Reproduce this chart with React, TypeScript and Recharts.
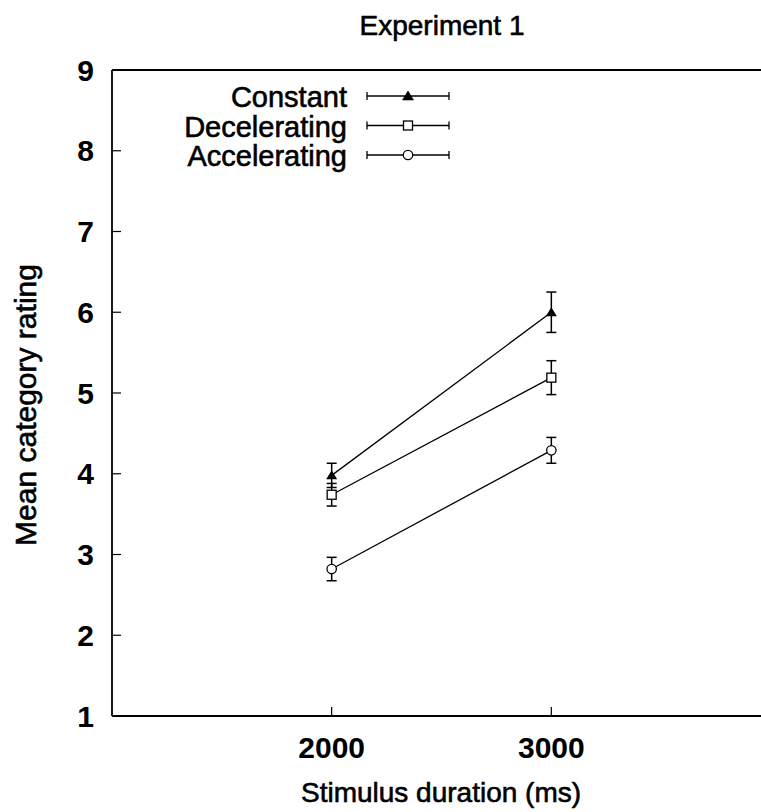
import { LineChart, Line, XAxis, YAxis, ErrorBar, ReferenceLine, Customized } from "recharts";

// stimulus durations (ms)
const durations = [2000, 3000];

// mean category ratings and error (half range) per condition
const constantMeans = [3.98, 6.0];
const constantErr = [0.15, 0.25];
const deceleratingMeans = [3.74, 5.19];
const deceleratingErr = [0.14, 0.21];
const acceleratingMeans = [2.82, 4.29];
const acceleratingErr = [0.145, 0.16];

const yTicks = [1, 2, 3, 4, 5, 6, 7, 8, 9];
const xTicks = [2000, 3000];

const seriesNames = ["Constant", "Decelerating", "Accelerating"];

const data = durations.map((d, i) => ({
  duration: d,
  constant: constantMeans[i],
  constantErr: constantErr[i],
  decelerating: deceleratingMeans[i],
  deceleratingErr: deceleratingErr[i],
  accelerating: acceleratingMeans[i],
  acceleratingErr: acceleratingErr[i],
}));

const FONT = "'Liberation Sans', Arial, sans-serif";

function Triangle({ cx, cy }: any) {
  if (cx == null || cy == null) return null;
  return <path d={`M${cx},${cy - 5} L${cx + 5.5},${cy + 4} L${cx - 5.5},${cy + 4} Z`} fill="#000" />;
}
function Square({ cx, cy }: any) {
  if (cx == null || cy == null) return null;
  return <rect x={cx - 4.5} y={cy - 4.5} width={9} height={9} fill="#fff" stroke="#000" strokeWidth={1.3} />;
}
function Circle({ cx, cy }: any) {
  if (cx == null || cy == null) return null;
  return <circle cx={cx} cy={cy} r={4.7} fill="#fff" stroke="#000" strokeWidth={1.3} />;
}

const markers = [Triangle, Square, Circle];

// legend drawn inside the plot, top-left
function LegendBox() {
  return (
    <g>
      {seriesNames.map((name, i) => {
        const y = 96 + i * 29.5;
        const M = markers[i];
        return (
          <g key={name}>
            <text
              x={347}
              y={y + 11}
              textAnchor="end"
              fontFamily={FONT}
              fontSize={29}
              fill="#000"
              stroke="#000"
              strokeWidth={0.6}
            >
              {name}
            </text>
            <line x1={367} x2={449} y1={y} y2={y} stroke="#000" strokeWidth={1.3} />
            <line x1={367} x2={367} y1={y - 4} y2={y + 4} stroke="#000" strokeWidth={1.3} />
            <line x1={449} x2={449} y1={y - 4} y2={y + 4} stroke="#000" strokeWidth={1.3} />
            <M cx={408} cy={y} />
          </g>
        );
      })}
    </g>
  );
}

function Titles() {
  return (
    <g fontFamily={FONT} fill="#000" stroke="#000" strokeWidth={0.6}>
      <text x={442} y={35} textAnchor="middle" fontSize={28}>
        Experiment 1
      </text>
      <text x={441} y={802} textAnchor="middle" fontSize={28}>
        Stimulus duration (ms)
      </text>
      <text x={36} y={405} textAnchor="middle" fontSize={30} transform="rotate(-90 36 405)">
        Mean category rating
      </text>
      <LegendBox />
    </g>
  );
}

const tickStyle = { fontFamily: FONT, fontSize: 30, fontWeight: 600, fill: "#000" };

export default function App() {
  return (
    <div style={{ position: "absolute", left: 0, top: 0, width: 761, height: 812, overflow: "hidden", background: "#fff" }}>
      <LineChart width={771} height={812} data={data} margin={{ top: 70, right: 0, bottom: 0, left: 0 }}>
        <XAxis
          dataKey="duration"
          type="number"
          domain={[1000, 4000]}
          ticks={xTicks}
          tickSize={-9}
          tickMargin={30}
          height={96}
          stroke="#000"
          strokeWidth={1.8}
          tick={tickStyle}
          tickLine={{ stroke: "#000", strokeWidth: 1.2 }}
        />
        <YAxis
          type="number"
          domain={[1, 9]}
          ticks={yTicks}
          tickSize={-9}
          tickMargin={27}
          width={112}
          stroke="#000"
          strokeWidth={1.8}
          tick={tickStyle}
          tickLine={{ stroke: "#000", strokeWidth: 1.2 }}
        />
        <ReferenceLine y={9} stroke="#000" strokeWidth={1.8} />
        <Line dataKey="constant" stroke="#000" strokeWidth={1.3} dot={<Triangle />} isAnimationActive={false}>
          <ErrorBar dataKey="constantErr" width={5} stroke="#000" strokeWidth={1.5} isAnimationActive={false} />
        </Line>
        <Line dataKey="decelerating" stroke="#000" strokeWidth={1.3} dot={<Square />} isAnimationActive={false}>
          <ErrorBar dataKey="deceleratingErr" width={5} stroke="#000" strokeWidth={1.5} isAnimationActive={false} />
        </Line>
        <Line dataKey="accelerating" stroke="#000" strokeWidth={1.3} dot={<Circle />} isAnimationActive={false}>
          <ErrorBar dataKey="acceleratingErr" width={5} stroke="#000" strokeWidth={1.5} isAnimationActive={false} />
        </Line>
        <Customized component={<Titles />} />
      </LineChart>
    </div>
  );
}
